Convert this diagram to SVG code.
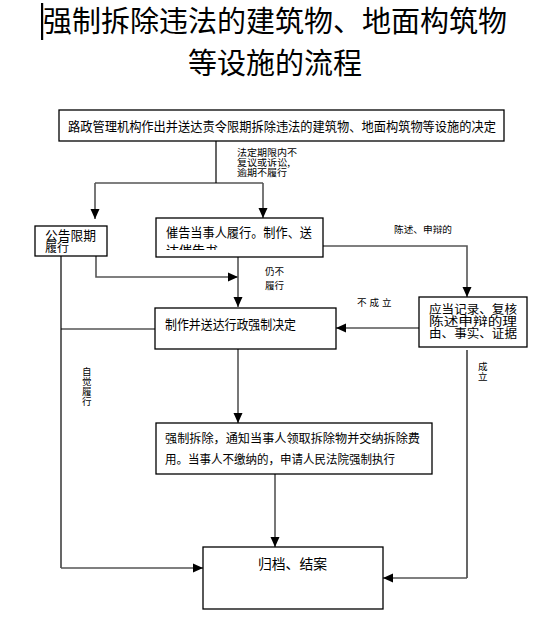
<svg xmlns="http://www.w3.org/2000/svg" width="556" height="632" viewBox="0 0 556 632">
<style>
text{font-family:"Noto Sans CJK SC","Liberation Sans",sans-serif;fill:#000}
.box{fill:#fff;stroke:#000;stroke-width:1.3}
.t13{font-size:13px}
.t12{font-size:12px}
.lbl{font-size:9.5px}
.ln{fill:none;stroke:#000;stroke-width:1.2}
.ar{fill:none;stroke:#555;stroke-width:1.6;marker-end:url(#ah)}
</style>
<defs>
<marker id="ah" markerUnits="userSpaceOnUse" markerWidth="10" markerHeight="10" refX="10" refY="5" orient="auto">
<path d="M0,0.5 L10,5 L0,9.5 z" fill="#000"/>
</marker>
<clipPath id="c1"><rect x="156" y="218" width="167" height="32"/></clipPath>
</defs>
<rect x="41" y="3" width="2.2" height="37" fill="#000"/>
<text x="43" y="32" style="font-size:29px" textLength="464" lengthAdjust="spacingAndGlyphs">强制拆除违法的建筑物、地面构筑物</text>
<text x="188" y="74" style="font-size:29px" textLength="174" lengthAdjust="spacingAndGlyphs">等设施的流程</text>
<g id="connectors">
<path class="ln" d="M216,141 V183"/>
<path class="ln" d="M95,183 H263"/>
<path class="ar" d="M95,183 V219"/>
<path class="ar" d="M263,183 V218"/>
<path class="ar" d="M96,256 V277 H238"/>
<path class="ar" d="M238,257 V307"/>
<path class="ar" d="M323,246 H467 V297"/>
<path class="ar" d="M419,328 H336"/>
<path class="ln" d="M61,256 V568"/>
<path class="ar" d="M61,568 H203"/>
<path class="ln" d="M61,329 H155"/>
<path class="ar" d="M238,349 V423"/>
<path class="ar" d="M275,474 V547"/>
<path class="ln" d="M467,350 V578"/>
<path class="ar" d="M467,578 H383"/>
<text class="lbl" x="237" y="156" textLength="60" lengthAdjust="spacingAndGlyphs">法定期限内不</text>
<text class="lbl" x="237" y="166" textLength="53" lengthAdjust="spacingAndGlyphs">复议或诉讼,</text>
<text class="lbl" x="237" y="176" textLength="50" lengthAdjust="spacingAndGlyphs">逾期不履行</text>
<text class="lbl" x="265" y="275">仍不</text>
<text class="lbl" x="265" y="289">履行</text>
<text class="lbl" x="394" y="233" textLength="58" lengthAdjust="spacingAndGlyphs">陈述、申辩的</text>
<text class="lbl" x="357" y="306" letter-spacing="3">不成立</text>
<text class="lbl" x="478" y="370">成</text>
<text class="lbl" x="478" y="380">立</text>
<text class="lbl" x="82" y="375">自</text>
<text class="lbl" x="82" y="385">觉</text>
<text class="lbl" x="82" y="395">履</text>
<text class="lbl" x="82" y="405">行</text>
</g>
<g id="n1">
<rect class="box" x="59" y="110" width="445" height="31"/>
<text class="t13" x="68" y="131" textLength="428" lengthAdjust="spacingAndGlyphs">路政管理机构作出并送达责令限期拆除违法的建筑物、地面构筑物等设施的决定</text>
</g>
<g id="n2">
<rect class="box" x="35" y="226" width="72" height="30"/>
<text class="t13" x="45" y="240" textLength="51" lengthAdjust="spacingAndGlyphs">公告限期</text>
<text class="t12" x="45" y="252">履行</text>
</g>
<g id="n3">
<rect class="box" x="156" y="218" width="167" height="39"/>
<text class="t13" x="166" y="237" textLength="146" lengthAdjust="spacingAndGlyphs">催告当事人履行。制作、送</text>
<text class="t13" x="166" y="255" clip-path="url(#c1)">达催告书</text>
</g>
<g id="n4">
<rect class="box" x="155" y="308" width="181" height="41"/>
<text class="t13" x="165" y="329" textLength="131" lengthAdjust="spacingAndGlyphs">制作并送达行政强制决定</text>
</g>
<g id="n5">
<rect class="box" x="419" y="297" width="108" height="50"/>
<text class="t12" x="429" y="314" textLength="88" lengthAdjust="spacingAndGlyphs">应当记录、复核</text>
<text class="t12" x="429" y="326" textLength="88" lengthAdjust="spacingAndGlyphs">陈述申辩的理</text>
<text class="t12" x="429" y="338" textLength="88" lengthAdjust="spacingAndGlyphs">由、事实、证据</text>
</g>
<g id="n6">
<rect class="box" x="156" y="423" width="276" height="51"/>
<text class="t12" x="165" y="443" textLength="255" lengthAdjust="spacingAndGlyphs">强制拆除，通知当事人领取拆除物并交纳拆除费</text>
<text class="t12" x="165" y="464" textLength="230" lengthAdjust="spacingAndGlyphs">用。当事人不缴纳的，申请人民法院强制执行</text>
</g>
<g id="n7">
<rect class="box" x="203" y="547" width="180" height="62"/>
<text x="258" y="569" style="font-size:14px" textLength="69" lengthAdjust="spacingAndGlyphs">归档、结案</text>
</g>
</svg>
